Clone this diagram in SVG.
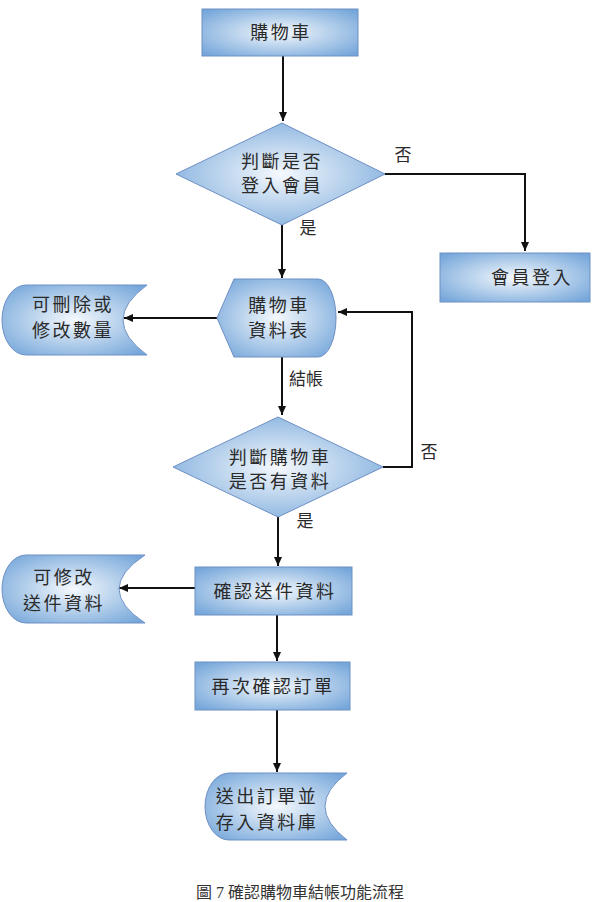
<svg xmlns="http://www.w3.org/2000/svg" width="592" height="902" viewBox="0 0 592 902">
<defs>
<radialGradient id="g" cx="50%" cy="50%" r="65%">
<stop offset="0%" stop-color="#f5f9fd"/>
<stop offset="100%" stop-color="#76a7da"/>
</radialGradient>
<marker id="ah" markerWidth="10" markerHeight="10" refX="9" refY="5" orient="auto" markerUnits="userSpaceOnUse">
<path d="M0,1 L9,5 L0,9 Z" fill="#111"/>
</marker>
<style>
.n{fill:url(#g);stroke:#6d8fc4;stroke-width:1}
.t{font-family:"Noto Sans CJK TC","Noto Sans CJK SC",sans-serif;font-size:18px;fill:#2a2a2a;text-anchor:middle;letter-spacing:2.5px}
.l{font-family:"Noto Sans CJK TC","Noto Sans CJK SC",sans-serif;font-size:17px;fill:#2a2a2a;text-anchor:middle}
.c{fill:none;stroke:#111;stroke-width:2}
.cap{font-family:"Liberation Serif","Noto Sans CJK TC",serif;font-size:16px;fill:#333;text-anchor:middle}
</style>
</defs>
<rect width="592" height="902" fill="#fff"/>
<g id="connectors">
<path class="c" d="M283,56 V121" marker-end="url(#ah)"/>
<path class="c" d="M385,174 H525 V251" marker-end="url(#ah)"/>
<path class="c" d="M282,225 V278" marker-end="url(#ah)"/>
<path class="c" d="M217,318 H124" marker-end="url(#ah)"/>
<path class="c" d="M282,357 V415" marker-end="url(#ah)"/>
<path class="c" d="M383,467 H412 V312 H338" marker-end="url(#ah)"/>
<path class="c" d="M278,517 V566" marker-end="url(#ah)"/>
<path class="c" d="M195,588 H119" marker-end="url(#ah)"/>
<path class="c" d="M277,615 V661" marker-end="url(#ah)"/>
<path class="c" d="M277,710 V772" marker-end="url(#ah)"/>
<text class="l" x="403" y="161">否</text>
<text class="l" x="308" y="234">是</text>
<text class="l" x="306" y="385">結帳</text>
<text class="l" x="429" y="458">否</text>
<text class="l" x="305" y="527">是</text>
</g>
<g id="cart">
<rect class="n" x="202" y="9" width="156" height="47"/>
<text class="t" x="281" y="39">購物車</text>
</g>
<g id="decision1">
<path class="n" d="M282,123 L385,174 L282,225 L176,174 Z"/>
<text class="t" x="282" y="168">判斷是否</text>
<text class="t" x="282" y="192">登入會員</text>
</g>
<g id="login">
<rect class="n" x="440" y="253" width="150" height="49"/>
<text class="t" x="532" y="284">會員登入</text>
</g>
<g id="cartlist">
<path class="n" d="M234,279 H318 A18,39 0 0 1 318,357 H234 L217,318 Z"/>
<text class="t" x="279" y="312">購物車</text>
<text class="t" x="279" y="337">資料表</text>
</g>
<g id="editqty">
<path class="n" d="M26,285 H147 Q99,320 147,355 H26 A24,35 0 0 1 26,285 Z"/>
<text class="t" x="73" y="311">可刪除或</text>
<text class="t" x="73" y="337">修改數量</text>
</g>
<g id="decision2">
<path class="n" d="M278,417 L383,467 L278,517 L173,467 Z"/>
<text class="t" x="280" y="464">判斷購物車</text>
<text class="t" x="280" y="488">是否有資料</text>
</g>
<g id="confirmship">
<rect class="n" x="195" y="567" width="157" height="48"/>
<text class="t" x="275" y="598">確認送件資料</text>
</g>
<g id="editship">
<path class="n" d="M26,555 H145 Q93,589 145,623 H26 A24,34 0 0 1 26,555 Z"/>
<text class="t" x="64" y="584">可修改</text>
<text class="t" x="64" y="610">送件資料</text>
</g>
<g id="reconfirm">
<rect class="n" x="195" y="662" width="155" height="48"/>
<text class="t" x="273" y="693">再次確認訂單</text>
</g>
<g id="store">
<path class="n" d="M229,773 H347 Q303,806 347,840 H229 A24,33.5 0 0 1 229,773 Z"/>
<text class="t" x="267" y="803">送出訂單並</text>
<text class="t" x="267" y="829">存入資料庫</text>
</g>
<text class="cap" x="300" y="898">圖 7  確認購物車結帳功能流程</text>
</svg>
